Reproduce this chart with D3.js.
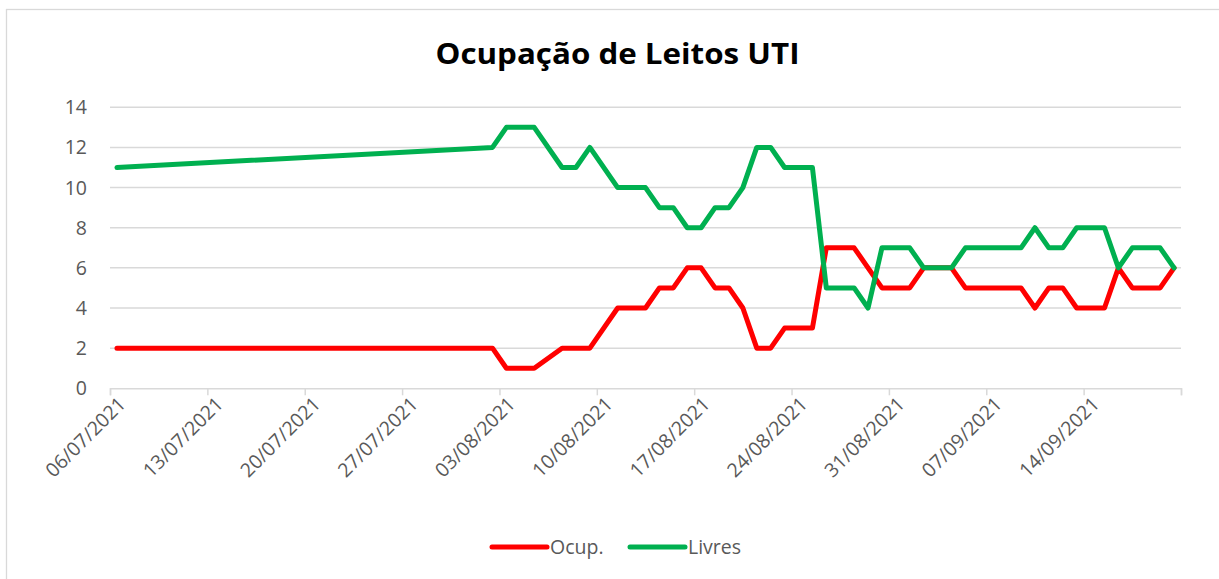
<!DOCTYPE html>
<html>
<head>
<meta charset="utf-8">
<script src="https://cdn.jsdelivr.net/npm/d3@7"></script>
<style>
    body { margin: 0; background: #fff; }
    text { font-family: "Open Sans", "Noto Sans", sans-serif; fill: #595959; }
</style>
</head>
<body>
<svg id="chart" width="1219" height="579"></svg>
<script>
"use strict";

// dates present in the sheet (gaps are joined by the line, as Excel does)
const dates = [
    "06/07/2021", "02/08/2021", "03/08/2021", "04/08/2021", "05/08/2021",
    "07/08/2021", "08/08/2021", "09/08/2021", "11/08/2021", "12/08/2021",
    "13/08/2021", "14/08/2021", "15/08/2021", "16/08/2021", "17/08/2021",
    "18/08/2021", "19/08/2021", "20/08/2021", "21/08/2021", "22/08/2021",
    "23/08/2021", "24/08/2021", "25/08/2021", "26/08/2021", "27/08/2021",
    "28/08/2021", "29/08/2021", "30/08/2021", "31/08/2021", "01/09/2021",
    "02/09/2021", "03/09/2021", "04/09/2021", "05/09/2021", "06/09/2021",
    "07/09/2021", "08/09/2021", "09/09/2021", "10/09/2021", "11/09/2021",
    "12/09/2021", "13/09/2021", "14/09/2021", "15/09/2021", "16/09/2021",
    "17/09/2021", "18/09/2021", "19/09/2021", "20/09/2021"
];

const ocup = [
    2, 2, 1, 1, 1,
    2, 2, 2, 4, 4,
    4, 5, 5, 6, 6,
    5, 5, 4, 2, 2,
    3, 3, 3, 7, 7,
    7, 6, 5, 5, 5,
    6, 6, 6, 5, 5,
    5, 5, 5, 4, 5,
    5, 4, 4, 4, 6,
    5, 5, 5, 6
];

const livres = [
    11, 12, 13, 13, 13,
    11, 11, 12, 10, 10,
    10, 9, 9, 8, 8,
    9, 9, 10, 12, 12,
    11, 11, 11, 5, 5,
    5, 4, 7, 7, 7,
    6, 6, 6, 7, 7,
    7, 7, 7, 8, 7,
    7, 8, 8, 8, 6,
    7, 7, 7, 6
];

const xTickDates = [
    "06/07/2021", "13/07/2021", "20/07/2021", "27/07/2021", "03/08/2021",
    "10/08/2021", "17/08/2021", "24/08/2021", "31/08/2021", "07/09/2021",
    "14/09/2021", "21/09/2021"
];
// Excel leaves the last tick unlabeled
const xTickLabels = xTickDates.slice(0, 11);
const yTicks = [0, 2, 4, 6, 8, 10, 12, 14];

const seriesNames = ["Ocup.", "Livres"];
const seriesColors = ["#FF0000", "#00B050"];

const parse = d3.timeParse("%d/%m/%Y");
const svg = d3.select("#chart");

const plotLeft = 110, plotRight = 1181, plotTop = 107.3, plotBottom = 388.3;

const x = d3.scaleTime()
    .domain([parse(xTickDates[0]), parse(xTickDates[xTickDates.length - 1])])
    .range([plotLeft, plotRight]);
const y = d3.scaleLinear()
    .domain([0, 14])
    .range([plotBottom, plotTop]);

// chart frame
svg.append("rect")
    .attr("x", 6.5).attr("y", 9.5)
    .attr("width", 1230).attr("height", 600)
    .attr("fill", "none")
    .attr("stroke", "#D9D9D9")
    .attr("stroke-width", 1.3);

svg.append("text")
    .attr("x", 617.5).attr("y", 64)
    .attr("text-anchor", "middle")
    .attr("textLength", 364)
    .attr("lengthAdjust", "spacingAndGlyphs")
    .style("font-size", "29px")
    .style("font-weight", "bold")
    .style("fill", "#000")
    .text("Ocupação de Leitos UTI");

// horizontal gridlines
svg.append("g")
    .selectAll("line")
    .data(yTicks.filter(function (d) { return d > 0; }))
    .enter()
    .append("line")
    .attr("x1", plotLeft).attr("x2", plotRight)
    .attr("y1", function (d) { return y(d); })
    .attr("y2", function (d) { return y(d); })
    .attr("stroke", "#D9D9D9")
    .attr("stroke-width", 1.5);

// y labels
svg.append("g")
    .selectAll("text")
    .data(yTicks)
    .enter()
    .append("text")
    .attr("x", 87)
    .attr("y", function (d) { return y(d); })
    .attr("dy", "0.36em")
    .attr("text-anchor", "end")
    .style("font-size", "19.5px")
    .text(function (d) { return d; });

// x axis
const xAxis = d3.axisBottom(x)
    .tickValues(xTickDates.map(parse))
    .tickSize(7)
    .tickFormat("");
const axisG = svg.append("g")
    .attr("transform", "translate(0," + plotBottom + ")")
    .call(xAxis);
axisG.select(".domain").attr("stroke", "#D9D9D9").attr("stroke-width", 1.5);
axisG.selectAll(".tick line").attr("stroke", "#D9D9D9").attr("stroke-width", 1.5);

svg.append("g")
    .selectAll("text")
    .data(xTickLabels)
    .enter()
    .append("text")
    .attr("transform", function (d) {
        return "translate(" + (x(parse(d)) + 12) + "," + (plotBottom + 12) + ") rotate(-45)";
    })
    .attr("text-anchor", "end")
    .attr("dy", "0.36em")
    .style("font-size", "19.5px")
    .text(function (d) { return d; });

// lines, each point sits in the middle of its day
const rows = dates.map(function (d, i) {
    return { date: parse(d), values: [ocup[i], livres[i]] };
});

[0, 1].forEach(function (k) {
    const line = d3.line()
        .x(function (d) { return x(d3.timeHour.offset(d.date, 12)); })
        .y(function (d) { return y(d.values[k]); });
    svg.append("path")
        .datum(rows)
        .attr("d", line)
        .attr("fill", "none")
        .attr("stroke", seriesColors[k])
        .attr("stroke-width", 5)
        .attr("stroke-linejoin", "round")
        .attr("stroke-linecap", "round");
});

// legend
const legendX = [492, 630];
const legend = svg.append("g")
    .selectAll("g")
    .data(seriesNames)
    .enter()
    .append("g")
    .attr("transform", function (d, i) { return "translate(" + legendX[i] + ",547)"; });
legend.append("line")
    .attr("x1", 0).attr("x2", 55)
    .attr("stroke", function (d, i) { return seriesColors[i]; })
    .attr("stroke-width", 5)
    .attr("stroke-linecap", "round");
legend.append("text")
    .attr("x", 58)
    .attr("dy", "0.36em")
    .style("font-size", "19.5px")
    .text(function (d) { return d; });
</script>
</body>
</html>
